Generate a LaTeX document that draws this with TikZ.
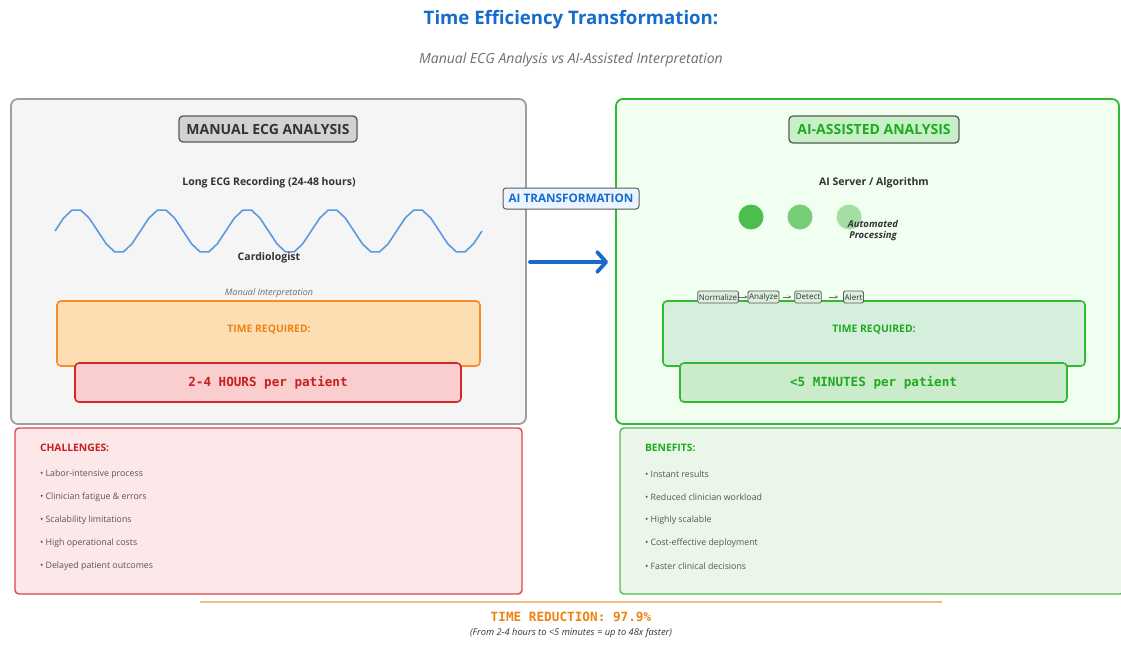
\documentclass[tikz,border=0pt]{standalone}
\usepackage{fontspec}
\setmainfont{Open Sans}
\newfontfamily\codefont{DejaVu Sans Mono}
\usetikzlibrary{arrows.meta}

\definecolor{titleblue}{RGB}{22,108,204}
\definecolor{subgray}{RGB}{110,110,110}
\definecolor{darktext}{RGB}{51,51,51}
\definecolor{itemtext}{RGB}{85,85,85}
\definecolor{panelgray}{RGB}{158,158,158}
\definecolor{panelbg}{RGB}{245,245,245}
\definecolor{headgray}{RGB}{210,210,210}
\definecolor{headedge}{RGB}{90,90,90}
\definecolor{wave}{RGB}{90,155,222}
\definecolor{orangeedge}{RGB}{247,140,40}
\definecolor{orangefill}{RGB}{253,222,178}
\definecolor{orangetext}{RGB}{240,130,20}
\definecolor{rededge}{RGB}{210,40,40}
\definecolor{redfill}{RGB}{250,205,207}
\definecolor{redtext}{RGB}{200,30,30}
\definecolor{greenedge}{RGB}{50,185,50}
\definecolor{greenbg}{RGB}{241,255,241}
\definecolor{greenhead}{RGB}{200,240,200}
\definecolor{greentext}{RGB}{30,170,30}
\definecolor{greenbox}{RGB}{214,238,220}
\definecolor{greenres}{RGB}{202,236,202}
\definecolor{pipefill}{RGB}{222,238,222}
\definecolor{arrowblue}{RGB}{25,105,200}
\definecolor{labelfill}{RGB}{236,244,255}
\definecolor{chalfill}{RGB}{253,232,233}
\definecolor{chaledge}{RGB}{220,70,70}
\definecolor{benfill}{RGB}{233,246,233}
\definecolor{benedge}{RGB}{80,190,80}
\definecolor{dotA}{RGB}{76,190,76}
\definecolor{dotB}{RGB}{120,206,120}
\definecolor{dotC}{RGB}{165,222,165}
\definecolor{lineorange}{RGB}{247,190,130}

\tikzset{
  box/.style={rectangle, inner sep=0pt, outer sep=0pt},
  panelbox/.style={box, rounded corners=7pt, line width=1.8pt},
  headbox/.style={box, rounded corners=4pt, line width=1.3pt, draw=headedge,
    font=\bfseries\fontsize{14}{16}\selectfont},
  timebox/.style={box, rounded corners=4pt, line width=1.6pt},
  label/.style={inner sep=0pt, outer sep=0pt, text=darktext},
  item/.style={label, anchor=west, text=itemtext, font=\fontsize{8.8}{10}\selectfont},
  pipe/.style={rectangle, rounded corners=1.5pt, draw=headedge, fill=pipefill,
    line width=0.8pt, inner xsep=1.2pt, inner ysep=0pt, minimum height=12pt,
    font=\fontsize{8}{9}\selectfont, text=darktext},
  pipearrow/.style={-{Stealth[length=3pt,width=3pt]}, draw=subgray, line width=0.6pt}
}

\begin{document}
\begin{tikzpicture}[x=1pt,y=-1pt]
\useasboundingbox[fill=white] (0,0) rectangle (1121,645);
\clip (0,0) rectangle (1121,645);

% heading
\node[label, text=titleblue, font=\bfseries\fontsize{18.6}{22}\selectfont] (title) at (571,20) {Time Efficiency Transformation:};
\node[label, text=subgray, font=\itshape\fontsize{14}{16}\selectfont] (subtitle) at (571,60) {Manual ECG Analysis vs AI-Assisted Interpretation};

% ---------------- manual side ----------------
\node[panelbox, draw=panelgray, fill=panelbg, minimum width=515, minimum height=325] (manual) at (268.5,261.5) {};
\node[headbox, fill=headgray, minimum width=178, minimum height=26, text=darktext] (manualhead) at (268,129) {MANUAL ECG ANALYSIS};
\node[label, font=\bfseries\fontsize{10.5}{12}\selectfont] (recording) at (269,183) {Long ECG Recording (24-48 hours)};
% ECG trace: five periods, ten samples per period
\draw[wave, line width=1.6pt, line join=round] plot[domain=55:482, samples=51] (\x, {231 - 22*sin((\x-55)/85.4*360)});
\node[label, font=\bfseries\fontsize{10.5}{12}\selectfont] (cardio) at (269,258) {Cardiologist};
\node[label, text=subgray, font=\itshape\fontsize{9}{10}\selectfont] (interp) at (269,293) {Manual Interpretation};
\node[timebox, draw=orangeedge, fill=orangefill, minimum width=423, minimum height=65] (manualtime) at (268.5,333.5) {};
\node[label, text=orangetext, font=\bfseries\fontsize{10.4}{12}\selectfont] (manualtimelbl) at (269,330) {TIME REQUIRED:};
\node[timebox, draw=rededge, fill=redfill, minimum width=386, minimum height=39, text=redtext,
      font=\codefont\bfseries\fontsize{12.6}{14}\selectfont] (manualres) at (268,382.5) {2-4 HOURS per patient};

% ---------------- AI side ----------------
\node[panelbox, draw=greenedge, fill=greenbg, minimum width=503, minimum height=325] (ai) at (867.5,261.5) {};
\node[headbox, fill=greenhead, minimum width=170, minimum height=27, text=greentext] (aihead) at (874,129.5) {AI-ASSISTED ANALYSIS};
\node[label, font=\bfseries\fontsize{10.5}{12}\selectfont] (server) at (874,183) {AI Server / Algorithm};
\node[circle, fill=dotA, minimum size=25, inner sep=0pt] (dot1) at (751,217) {};
\node[circle, fill=dotB, minimum size=25, inner sep=0pt] (dot2) at (800,217) {};
\node[circle, fill=dotC, minimum size=25, inner sep=0pt] (dot3) at (849,217) {};
\node[label, align=center, font=\bfseries\itshape\fontsize{9.5}{11}\selectfont] (auto) at (873,231) {Automated\\Processing};
\node[timebox, draw=greenedge, fill=greenbox, minimum width=422, minimum height=65] (aitime) at (874,333.5) {};
\node[label, text=greentext, font=\bfseries\fontsize{10.4}{12}\selectfont] (aitimelbl) at (874,330) {TIME REQUIRED:};
\node[timebox, draw=greenedge, fill=greenres, minimum width=387, minimum height=39, text=greentext,
      font=\codefont\bfseries\fontsize{12.6}{14}\selectfont] (aires) at (873.5,382.5) {<5 MINUTES per patient};

% processing pipeline
\node[pipe] (norm) at (718,297) {Normalize};
\node[pipe] (anal) at (763.5,297) {Analyze};
\node[pipe] (detect) at (808,297) {Detect};
\node[pipe] (alert) at (853.5,297) {Alert};
\draw[pipearrow, shorten <=0pt, shorten >=0pt] (norm) -- (anal);
\draw[pipearrow, shorten <=4pt, shorten >=3pt] (anal) -- (detect);
\draw[pipearrow, shorten <=7pt, shorten >=5pt] (detect) -- (alert);

% transformation arrow
\node[rectangle, rounded corners=3pt, draw=headedge, fill=labelfill, line width=1pt,
      minimum width=136, minimum height=21, inner sep=0pt, text=titleblue,
      font=\bfseries\fontsize{11.7}{13}\selectfont] (transform) at (571,198.5) {AI TRANSFORMATION};
\coordinate (arrowstart) at (530,262);
\coordinate (arrowend) at (608,262);
\draw[arrowblue, line width=3.8pt, line cap=round,
      -{Straight Barb[length=9pt, width=20pt, line cap=round, line join=round]}] (arrowstart) -- (arrowend);

% ---------------- bottom panels ----------------
\node[timebox, draw=chaledge, fill=chalfill, line width=1.4pt, minimum width=507, minimum height=166] (chal) at (268.5,511) {};
\node[label, anchor=west, text=redtext, font=\bfseries\fontsize{10.3}{12}\selectfont] (chalhead) at (40,448) {CHALLENGES:};
\node[item] (c1) at (40,474) {• Labor-intensive process};
\node[item] (c2) at (40,497) {• Clinician fatigue \& errors};
\node[item] (c3) at (40,520) {• Scalability limitations};
\node[item] (c4) at (40,543) {• High operational costs};
\node[item] (c5) at (40,566) {• Delayed patient outcomes};

\node[timebox, draw=benedge, fill=benfill, line width=1.4pt, minimum width=504, minimum height=166] (ben) at (872,511) {};
\node[label, anchor=west, text=greentext, font=\bfseries\fontsize{10.3}{12}\selectfont] (benhead) at (645,448) {BENEFITS:};
\node[item] (b1) at (645,474) {• Instant results};
\node[item] (b2) at (645,497) {• Reduced clinician workload};
\node[item] (b3) at (645,520) {• Highly scalable};
\node[item] (b4) at (645,543) {• Cost-effective deployment};
\node[item] (b5) at (645,566) {• Faster clinical decisions};

% summary
\coordinate (lineL) at (200,602);
\coordinate (lineR) at (942,602);
\draw[lineorange, line width=2pt] (lineL) -- (lineR);
\node[label, text=orangetext, font=\codefont\bfseries\fontsize{12.7}{14}\selectfont] (reduction) at (571,617) {TIME REDUCTION: 97.9\%};
\node[label, text=darktext, font=\itshape\fontsize{9.3}{11}\selectfont] (footnote) at (571,633) {(From 2-4 hours to <5 minutes = up to 48x faster)};
\end{tikzpicture}
\end{document}
